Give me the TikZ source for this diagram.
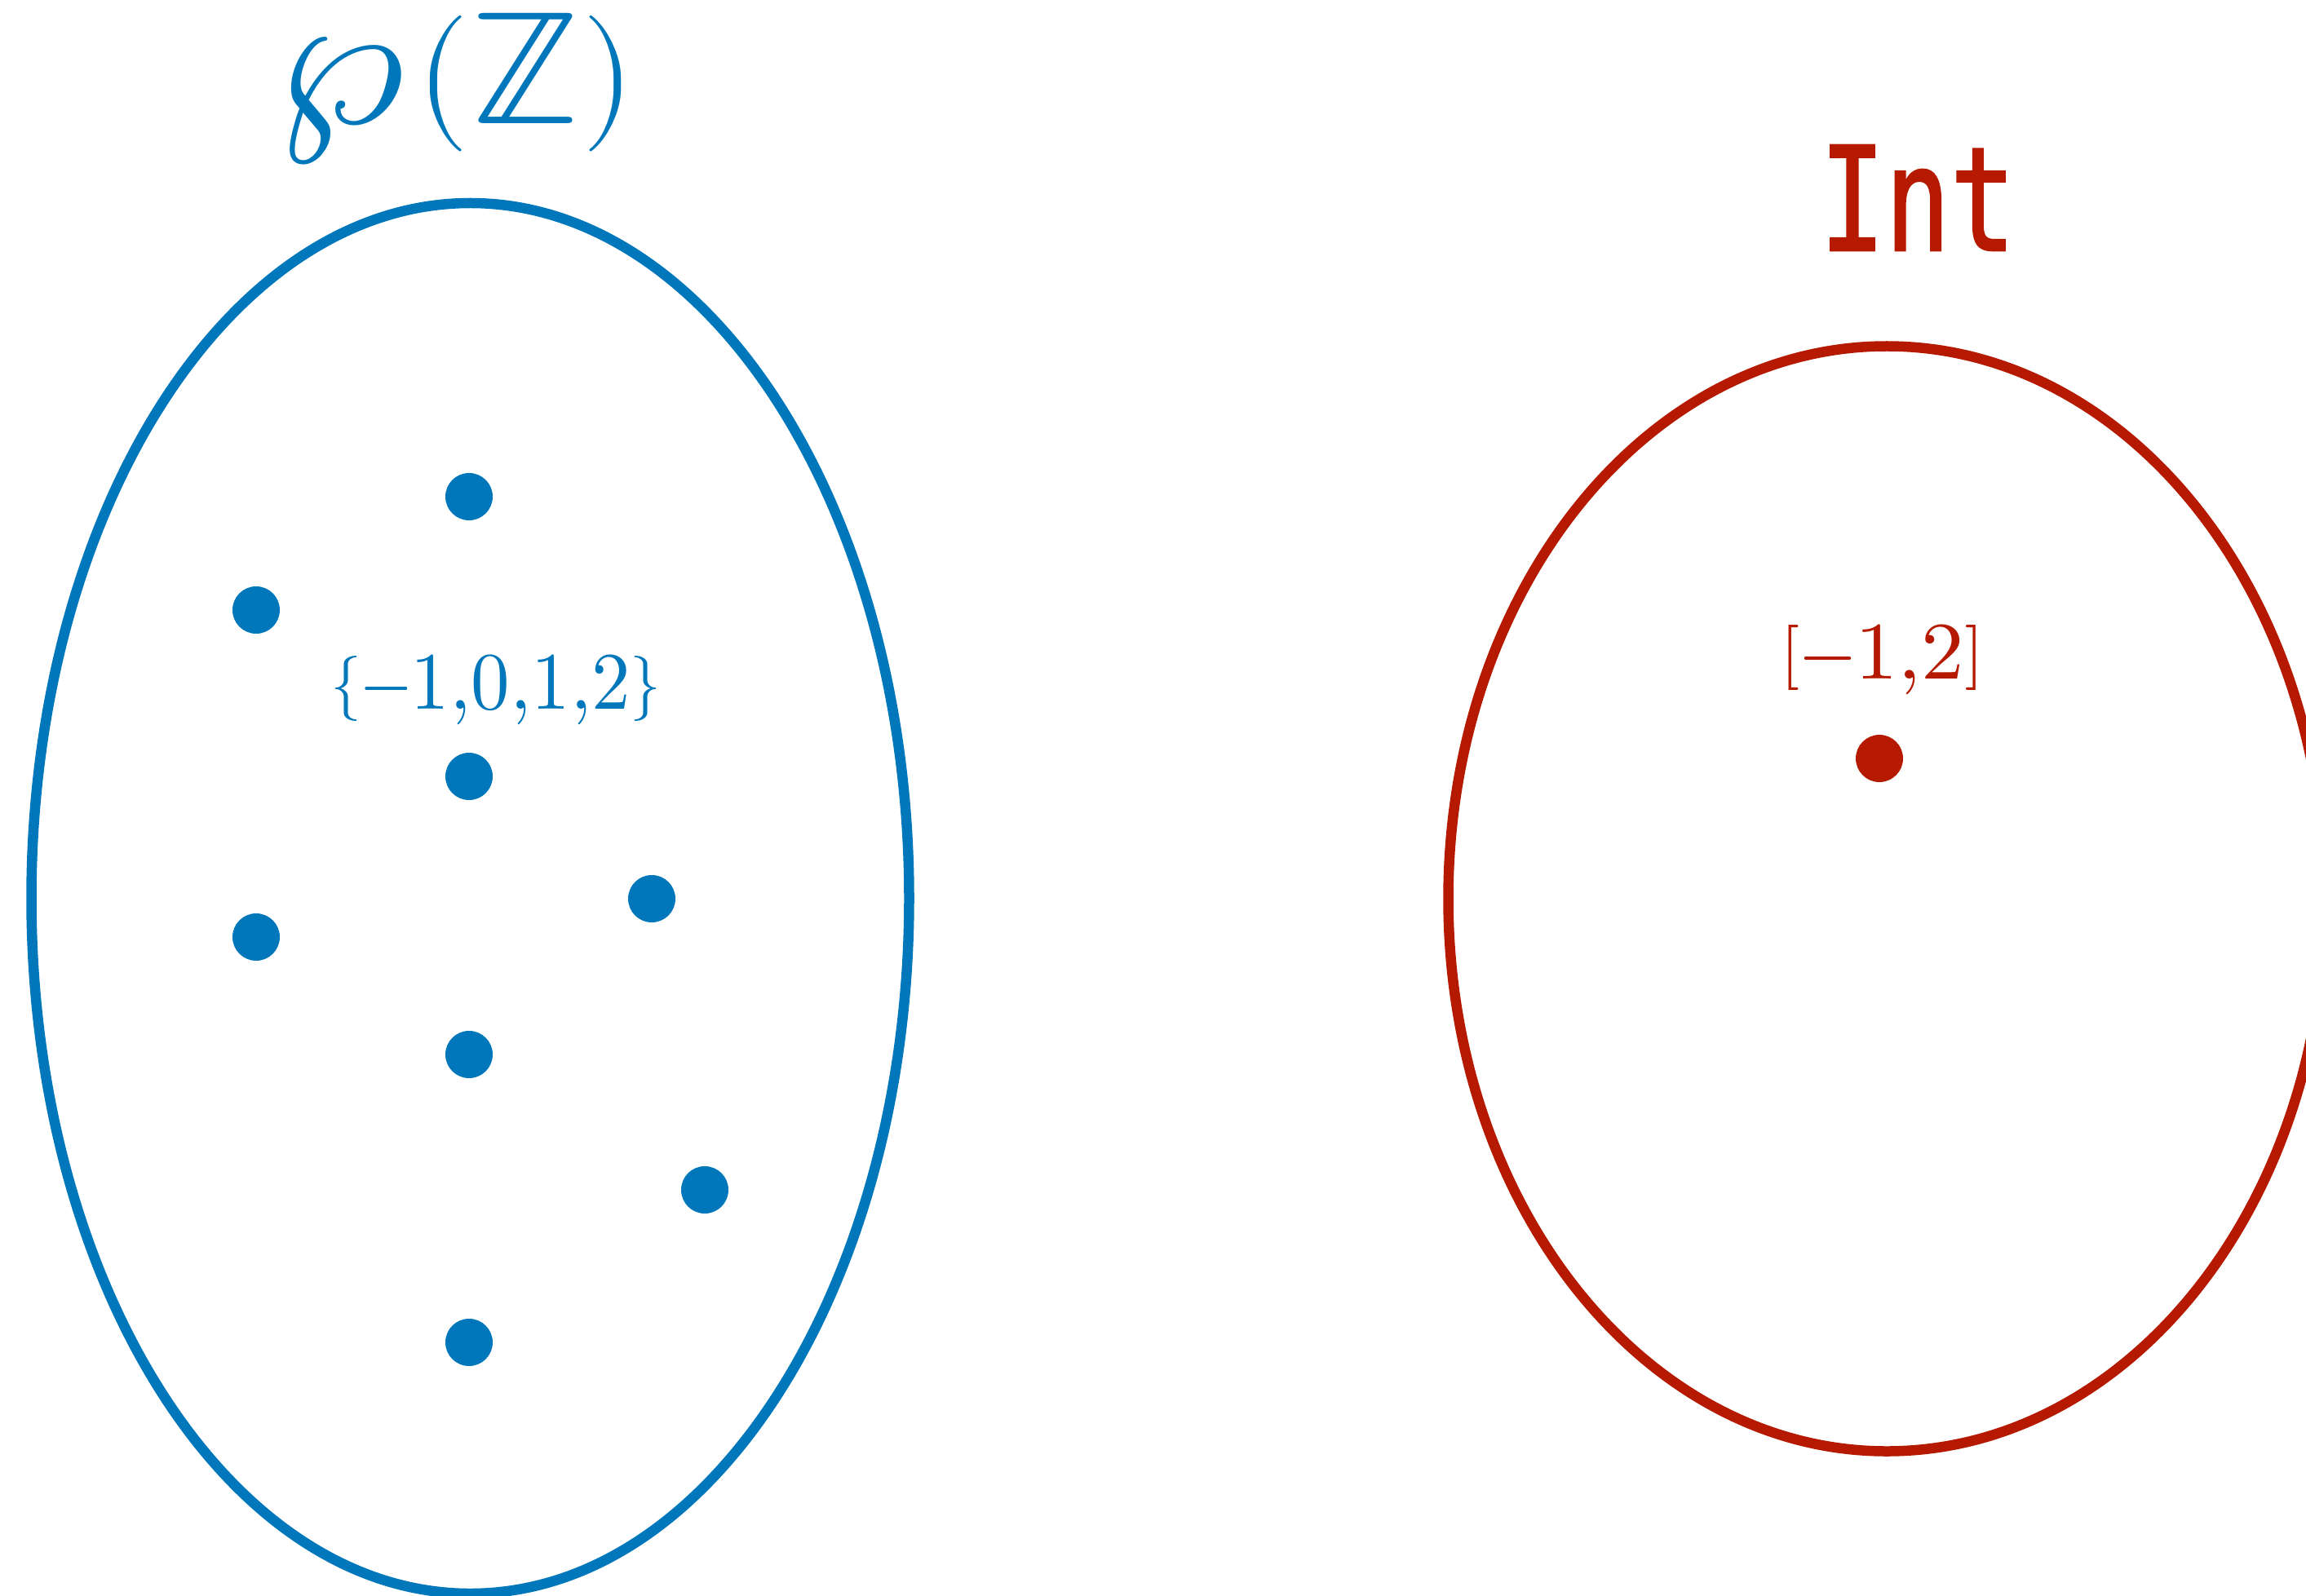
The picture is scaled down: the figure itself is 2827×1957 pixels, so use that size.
\documentclass[tikz,border=0pt]{standalone}
\usepackage{graphicx}
\usepackage{fontspec}
\usepackage{unicode-math}
\setmathfont{Latin Modern Math}
\newfontfamily\intfont[FakeBold=1.5]{DejaVu Sans Mono}
\definecolor{myblue}{RGB}{0,119,187}
\definecolor{myred}{RGB}{181,26,0}
\newcommand{\smdelim}[1]{\raisebox{0.05em}{\scalebox{0.8}{$#1$}}}
\newcommand{\smminus}{\scalebox{0.82}[1]{$-$}}
\begin{document}
\begin{tikzpicture}[x=0.1pt,y=-0.1pt,
  dot/.style={circle,inner sep=0pt,minimum size=5.8pt},
  bluedot/.style={dot,fill=myblue},
  reddot/.style={dot,fill=myred},
  setline/.style={line width=1.25pt},
  lbl/.style={anchor=base,inner sep=0pt}]
\useasboundingbox (0,0) rectangle (2827,1957);
\clip (0,0) rectangle (2827,1957);
% sets
\draw[setline,myblue] (576.5,1101.5) ellipse [x radius=538, y radius=852.5];
\draw[setline,myred] (2313,1102) ellipse [x radius=537.5, y radius=677.5];
% titles
\node[lbl,text=myblue,font=\fontsize{18}{20}\selectfont] (ptitle) at (560,152)
  {\scalebox{1.4}[1.3]{$\wp$}\kern0.05em\raisebox{0.04em}{\scalebox{0.93}{$($}}\scalebox{1.15}[1.1]{$\mathbb{Z}$}\raisebox{0.04em}{\scalebox{0.93}{$)$}}};
\node[lbl,text=myred,font=\intfont\fontsize{17.7}{20}\selectfont] (inttitle) at (2351,307) {\scalebox{0.75}[1]{Int}};
% blue dots
\node[bluedot] (b1) at (575,609) {};
\node[bluedot] (b2) at (314,748) {};
\node[bluedot] (b3) at (575,952) {};
\node[bluedot] (b4) at (799,1102) {};
\node[bluedot] (b5) at (314,1149) {};
\node[bluedot] (b6) at (575,1293) {};
\node[bluedot] (b7) at (864,1459) {};
\node[bluedot] (b8) at (575,1646) {};
\node[lbl,text=myblue,font=\fontsize{10}{12}\selectfont] (setlbl) at (608,869)
  {\scalebox{0.95}[1]{\smdelim{\{}\smminus$1{,}0{,}1{,}2$\smdelim{\}}}};
% red dot
\node[reddot] (r1) at (2304,930) {};
\node[lbl,text=myred,font=\fontsize{10}{12}\selectfont] (intlbl) at (2307.5,832)
  {\scalebox{1.05}[1]{\smdelim{[}\smminus$1{,}2$\smdelim{]}}};
\end{tikzpicture}
\end{document}
